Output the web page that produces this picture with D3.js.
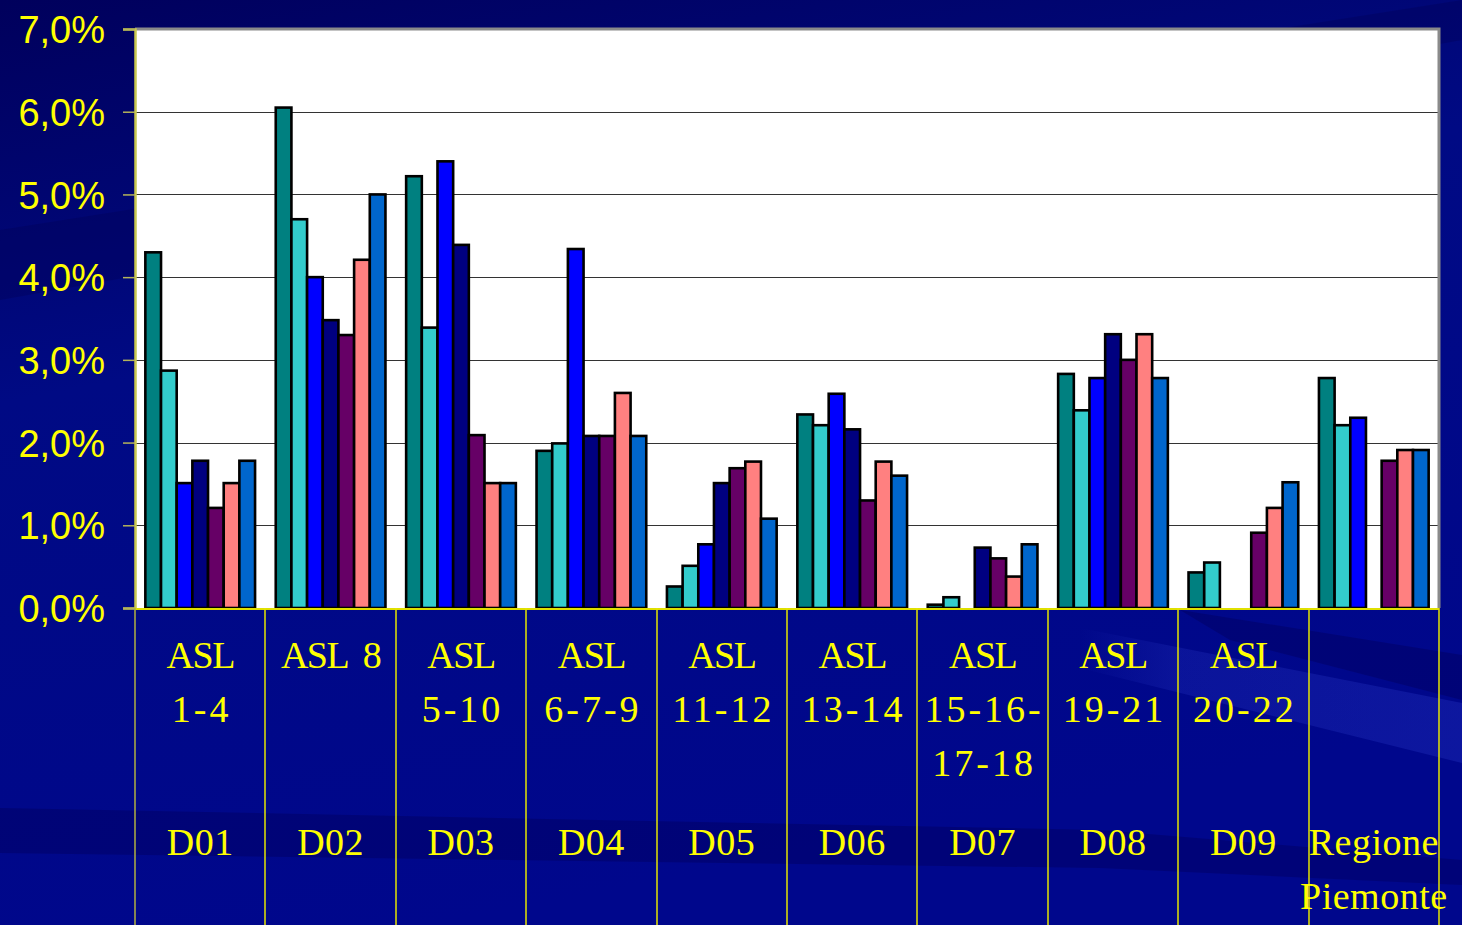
<!DOCTYPE html>
<html>
<head>
<meta charset="utf-8">
<script src="https://cdn.jsdelivr.net/npm/d3@7"></script>
<style>
  html, body { margin: 0; padding: 0; background: #000080; }
  svg { display: block; }
</style>
</head>
<body>
<div id="chart"></div>
<script>
// Categories (districts) and their label lines
const categories = ["D01", "D02", "D03", "D04", "D05", "D06", "D07", "D08", "D09", "Regione"];
const aslLines = [
    ["ASL", "1-4"], ["ASL  8"], ["ASL", "5-10"], ["ASL", "6-7-9"], ["ASL", "11-12"],
    ["ASL", "13-14"], ["ASL", "15-16-", "17-18"], ["ASL", "19-21"], ["ASL", "20-22"], []
];
const distLines = [
    ["D01"], ["D02"], ["D03"], ["D04"], ["D05"], ["D06"], ["D07"], ["D08"], ["D09"], ["Regione", "Piemonte"]
];

// Seven series per category (percent), null = no bar
const s1 = [4.3, 6.05, 5.22, 1.9, 0.26, 2.34, 0.04, 2.83, 0.43, 2.78];
const s2 = [2.87, 4.7, 3.39, 1.99, 0.51, 2.21, 0.13, 2.39, 0.55, 2.21];
const s3 = [1.51, 4.0, 5.4, 4.34, 0.77, 2.59, null, 2.78, null, 2.3];
const s4 = [1.78, 3.48, 4.39, 2.08, 1.51, 2.16, 0.73, 3.31, null, null];
const s5 = [1.21, 3.3, 2.09, 2.08, 1.69, 1.3, 0.6, 3.0, 0.91, 1.78];
const s6 = [1.51, 4.21, 1.51, 2.6, 1.77, 1.77, 0.38, 3.31, 1.21, 1.91];
const s7 = [1.78, 5.0, 1.51, 2.08, 1.08, 1.6, 0.77, 2.78, 1.52, 1.91];
const seriesValues = [s1, s2, s3, s4, s5, s6, s7];
const seriesColors = ["#008080", "#33CCCC", "#0000FF", "#000080", "#660066", "#FF8080", "#0066CC"];

const yTicks = [0, 1, 2, 3, 4, 5, 6, 7];

const width = 1462, height = 925;
const plot = { left: 135, right: 1439, top: 29, bottom: 608 };

const svg = d3.select('#chart').append('svg')
    .attr('width', width)
    .attr('height', height);

// Background
const defs = svg.append('defs');
const grad = defs.append('linearGradient')
    .attr('id', 'bg').attr('x1', '0').attr('y1', '0').attr('x2', '0.3').attr('y2', '1');
grad.append('stop').attr('offset', '0').attr('stop-color', '#00005c');
grad.append('stop').attr('offset', '0.4').attr('stop-color', '#000a84');
grad.append('stop').attr('offset', '1').attr('stop-color', '#00078c');
const streakGrad = defs.append('linearGradient')
    .attr('id', 'streak').attr('x1', '0').attr('y1', '0').attr('x2', '1').attr('y2', '0');
streakGrad.append('stop').attr('offset', '0').attr('stop-color', '#3040d0').attr('stop-opacity', 0);
streakGrad.append('stop').attr('offset', '0.25').attr('stop-color', '#3040d0').attr('stop-opacity', 0.22);
streakGrad.append('stop').attr('offset', '1').attr('stop-color', '#3040d0').attr('stop-opacity', 0.28);

svg.append('rect').attr('width', width).attr('height', height).attr('fill', 'url(#bg)');

// faint streaks in the background
svg.append('polygon')
    .attr('points', '0,230 1462,0 1462,40 0,300')
    .attr('fill', '#000050').attr('opacity', 0.3);
svg.append('polygon')
    .attr('points', '0,808 1100,830 1462,860 1462,885 1100,868 0,853')
    .attr('fill', '#000060').attr('opacity', 0.45);
svg.append('polygon')
    .attr('points', '1180,610 1462,655 1462,700 1230,640')
    .attr('fill', '#000060').attr('opacity', 0.45);
svg.append('polygon')
    .attr('points', '1080,628 1462,703 1462,763 1080,668')
    .attr('fill', 'url(#streak)');

// Scales
const x0 = d3.scaleBand()
    .domain(categories)
    .range([plot.left, plot.right])
    .paddingInner(0)
    .paddingOuter(0);

const x1 = d3.scaleBand()
    .domain(d3.range(seriesValues.length))
    .range([0, x0.bandwidth()])
    .paddingInner(0)
    .paddingOuter(0.66);

const y = d3.scaleLinear()
    .domain([0, 7])
    .range([plot.bottom, plot.top]);

// Plot area
svg.append('rect')
    .attr('x', plot.left).attr('y', plot.top)
    .attr('width', plot.right - plot.left).attr('height', plot.bottom - plot.top)
    .attr('fill', '#ffffff');

// Gridlines
svg.append('g')
    .selectAll('line')
    .data(yTicks.filter(t => t > 0 && t < 7))
    .enter().append('line')
    .attr('x1', plot.left).attr('x2', plot.right)
    .attr('y1', d => Math.round(y(d)) + 0.5).attr('y2', d => Math.round(y(d)) + 0.5)
    .attr('stroke', '#333')
    .attr('stroke-width', 1);

// Plot border (top / right)
svg.append('path')
    .attr('d', `M${plot.left},${plot.top} H${plot.right} V${plot.bottom}`)
    .attr('fill', 'none')
    .attr('stroke', '#8a8a8a')
    .attr('stroke-width', 3);

// Bars
const groups = svg.append('g').selectAll('g')
    .data(categories)
    .enter().append('g')
    .attr('transform', d => `translate(${x0(d)},0)`);

groups.selectAll('rect')
    .data((d, ci) => seriesValues.map((s, si) => ({ si, v: s[ci] })).filter(e => e.v !== null))
    .enter().append('rect')
    .attr('x', d => x1(d.si))
    .attr('y', d => y(d.v))
    .attr('width', x1.bandwidth())
    .attr('height', d => y(0) - y(d.v))
    .attr('fill', d => seriesColors[d.si])
    .attr('stroke', '#000')
    .attr('stroke-width', 2.6);

// Y axis
const yAxis = svg.append('g')
    .attr('transform', `translate(${plot.left},0)`)
    .call(d3.axisLeft(y).tickValues(yTicks).tickSize(12).tickPadding(18)
        .tickFormat(d => d.toFixed(1).replace('.', ',') + '%'));
yAxis.select('.domain').attr('stroke', '#c8c850').attr('stroke-width', 2.5);
yAxis.selectAll('.tick line').attr('stroke', '#b4b45a').attr('stroke-width', 1.5);
yAxis.selectAll('text')
    .attr('fill', '#ffff00')
    .style('font-family', '"Liberation Sans", Arial, sans-serif')
    .style('font-size', '38px')
    .attr('dy', '0.36em');

// Bottom axis line
svg.append('line')
    .attr('x1', plot.left).attr('x2', plot.right)
    .attr('y1', plot.bottom + 1).attr('y2', plot.bottom + 1)
    .attr('stroke', '#e0e000')
    .attr('stroke-width', 2);

// Category separators below the plot
const bounds = categories.map(c => x0(c)).concat([plot.right]);
svg.append('g').selectAll('line')
    .data(bounds)
    .enter().append('line')
    .attr('x1', d => Math.round(d)).attr('x2', d => Math.round(d))
    .attr('y1', plot.bottom).attr('y2', height)
    .attr('stroke', (d, i) => i === 0 ? '#b0b040' : '#e6e600')
    .attr('stroke-width', 1.5);

// Category labels
const labelFont = '"Liberation Serif", "Times New Roman", serif';
const labels = svg.append('g').selectAll('g')
    .data(categories)
    .enter().append('g')
    .attr('transform', d => `translate(${x0(d) + x0.bandwidth() / 2},0)`);

labels.each(function (d, i) {
    const g = d3.select(this);
    aslLines[i].forEach((line, li) => {
        const isAsl = line.startsWith('ASL');
        g.append('text')
            .attr('x', isAsl ? 0 : 1.5)
            .attr('y', 668 + li * 54)
            .attr('text-anchor', 'middle')
            .style('white-space', 'pre')
            .style('letter-spacing', isAsl ? '-1.5px' : '3px')
            .style('font-family', labelFont)
            .style('font-size', '38px')
            .attr('fill', '#ffff00')
            .text(line);
    });
    distLines[i].forEach((line, li) => {
        g.append('text')
            .attr('x', 0)
            .attr('y', 855 + li * 54)
            .attr('text-anchor', 'middle')
            .style('letter-spacing', '0.5px')
            .style('font-family', labelFont)
            .style('font-size', '38px')
            .attr('fill', '#ffff00')
            .text(line);
    });
});
</script>
</body>
</html>
